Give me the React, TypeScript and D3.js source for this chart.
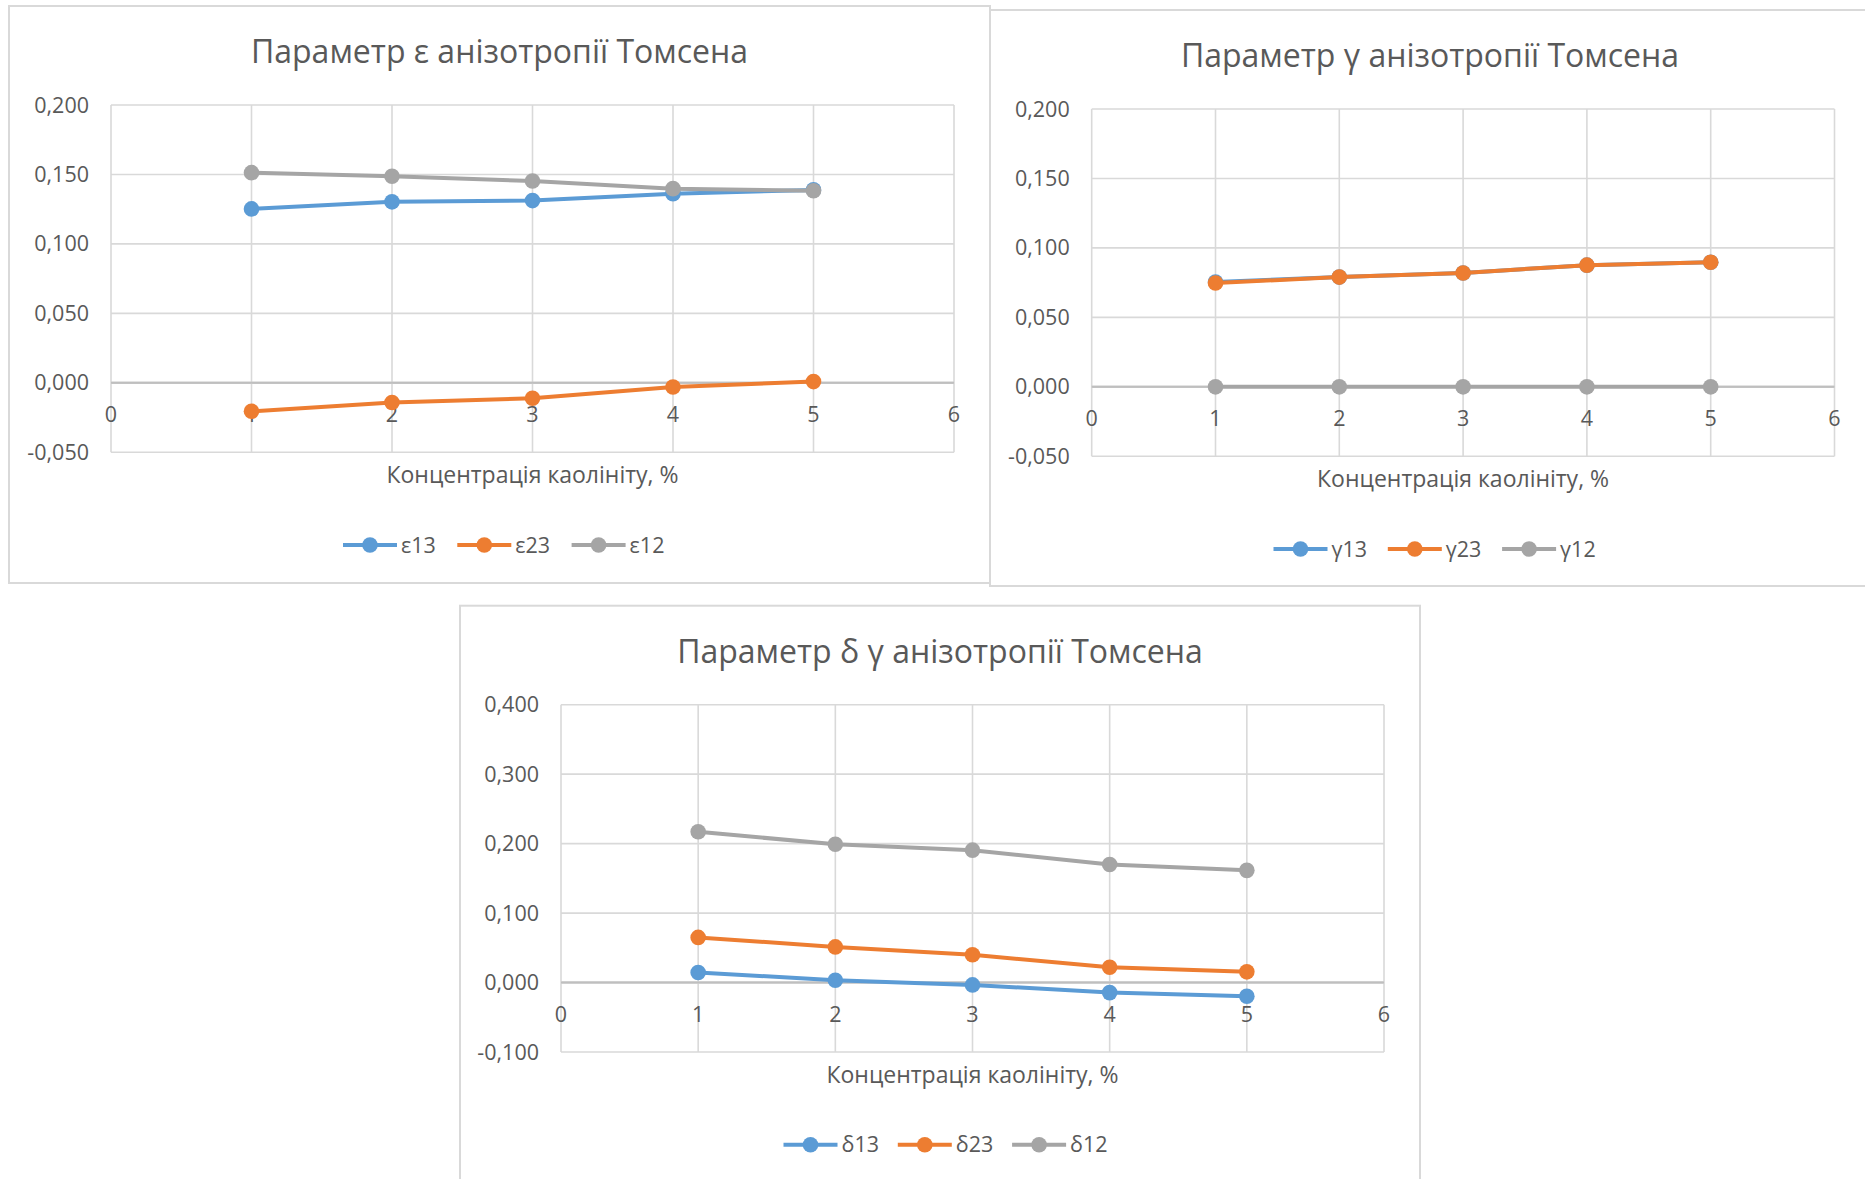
import React from "react";
import * as d3 from "d3";

// ---------- data ----------
const xValues = [1, 2, 3, 4, 5];

const epsNames = ["ε13", "ε23", "ε12"];
const eps13 = [0.1252, 0.1303, 0.1312, 0.1362, 0.1389];
const eps23 = [-0.0205, -0.0141, -0.0111, -0.003, 0.0009];
const eps12 = [0.1513, 0.1487, 0.1453, 0.1398, 0.1383];

const gamNames = ["γ13", "γ23", "γ12"];
const gam13 = [0.0755, 0.079, 0.082, 0.0876, 0.0897];
const gam23 = [0.0747, 0.079, 0.082, 0.0876, 0.0897];
const gam12 = [0, 0, 0, 0, 0];

const delNames = ["δ13", "δ23", "δ12"];
const del13 = [0.0145, 0.0034, -0.0034, -0.0145, -0.0197];
const del23 = [0.065, 0.0513, 0.040, 0.022, 0.0154];
const del12 = [0.217, 0.199, 0.1906, 0.170, 0.1615];

const titles = [
  "Параметр ε анізотропії Томсена",
  "Параметр γ анізотропії Томсена",
  "Параметр δ γ анізотропії Томсена",
];
const xAxisTitle = "Концентрація каолініту, %";
const xTicks = [0, 1, 2, 3, 4, 5, 6];
const yTicksSmall = [-0.05, 0, 0.05, 0.1, 0.15, 0.2];
const yTicksLarge = [-0.1, 0, 0.1, 0.2, 0.3, 0.4];

const seriesColors = ["#5B9BD5", "#ED7D31", "#A5A5A5"];

// ---------- helpers ----------
const locale = d3.formatLocale({
  decimal: ",",
  thousands: " ",
  grouping: [3],
  currency: ["", ""],
  minus: "-",
});
const fmtY = locale.format(".3f");

const FONT = "'Open Sans', 'DejaVu Sans', sans-serif";
const TEXT = "#595959";
const GRID = "#D9D9D9";

type ChartProps = {
  fx: number; fy: number; fw: number; fh: number;
  plotLeft: number; plotRight: number;
  title: string;
  yDomain: [number, number];
  yTicks: number[];
  names: string[];
  series: number[][];
};

function Chart(p: ChartProps) {
  const plotTop = p.fy + 99;
  const plotBottom = plotTop + 347.3;
  const x = d3.scaleLinear().domain([0, 6]).range([p.plotLeft, p.plotRight]);
  const y = d3.scaleLinear().domain(p.yDomain).range([plotBottom, plotTop]);
  const line = d3
    .line<number>()
    .x((_, i) => x(xValues[i]))
    .y((d) => y(d));
  const cx = p.fx + p.fw / 2;
  const y0 = y(0);
  const legendSpacing = 114.3;
  const legendWidth = 320;
  const legendStart = cx + 3.5 - legendWidth / 2;
  const legendY = p.fy + 539;

  return (
    <g>
      <rect x={p.fx} y={p.fy} width={p.fw} height={p.fh} fill="#fff" stroke={GRID} strokeWidth={2} />
      <text x={cx} y={p.fy + 57} textAnchor="middle" fontSize={32} fill={TEXT} fontFamily={FONT}>
        {p.title}
      </text>
      {/* horizontal gridlines */}
      {p.yTicks.map((t) => (
        <line key={"h" + t} x1={p.plotLeft} x2={p.plotRight} y1={y(t)} y2={y(t)}
          stroke={t === 0 ? "#BFBFBF" : GRID} strokeWidth={t === 0 ? 2 : 1.6} />
      ))}
      {/* vertical gridlines */}
      {xTicks.map((t) => (
        <line key={"v" + t} x1={x(t)} x2={x(t)} y1={plotTop} y2={plotBottom}
          stroke={GRID} strokeWidth={1.6} />
      ))}
      <line x1={p.plotLeft} x2={p.plotRight} y1={y0} y2={y0} stroke="#BFBFBF" strokeWidth={2} />
      {/* y tick labels */}
      {p.yTicks.map((t) => (
        <text key={"yl" + t} x={p.plotLeft - 22} y={y(t) + 7.5} textAnchor="end" fontSize={21.5}
          fill={TEXT} fontFamily={FONT}>
          {fmtY(t)}
        </text>
      ))}
      {/* x tick labels */}
      {xTicks.map((t) => (
        <text key={"xl" + t} x={x(t)} y={y0 + 39} textAnchor="middle" fontSize={21.5}
          fill={TEXT} fontFamily={FONT}>
          {t}
        </text>
      ))}
      <text x={(p.plotLeft + p.plotRight) / 2} y={p.fy + 477} textAnchor="middle" fontSize={23}
        fill={TEXT} fontFamily={FONT}>
        {xAxisTitle}
      </text>
      {/* series */}
      {p.series.map((s, si) => (
        <g key={"s" + si}>
          <path d={line(s) || ""} fill="none" stroke={seriesColors[si]} strokeWidth={4}
            strokeLinejoin="round" strokeLinecap="round" />
          {s.map((v, i) => (
            <circle key={i} cx={x(xValues[i])} cy={y(v)} r={7.8} fill={seriesColors[si]} />
          ))}
        </g>
      ))}
      {/* legend */}
      {p.names.map((n, i) => {
        const lx = legendStart + i * legendSpacing;
        return (
          <g key={"lg" + i}>
            <line x1={lx} x2={lx + 54} y1={legendY} y2={legendY} stroke={seriesColors[i]} strokeWidth={4} />
            <circle cx={lx + 27} cy={legendY} r={7.8} fill={seriesColors[i]} />
            <text x={lx + 58} y={legendY + 7.5} fontSize={21.5} fill={TEXT} fontFamily={FONT}>
              {n}
            </text>
          </g>
        );
      })}
    </g>
  );
}

export default function App() {
  return (
    <svg width={1865} height={1179} style={{ position: "absolute", left: 0, top: 0, background: "#fff" }}>
      <rect x={0} y={0} width={1865} height={1179} fill="#fff" />
      <Chart fx={9} fy={6} fw={981} fh={577} plotLeft={111} plotRight={954}
        title={titles[0]} yDomain={[-0.05, 0.2]} yTicks={yTicksSmall}
        names={epsNames} series={[eps13, eps23, eps12]} />
      <Chart fx={990} fy={10} fw={880} fh={576} plotLeft={1091.7} plotRight={1834.5}
        title={titles[1]} yDomain={[-0.05, 0.2]} yTicks={yTicksSmall}
        names={gamNames} series={[gam13, gam23, gam12]} />
      <Chart fx={460} fy={605.7} fw={960} fh={620} plotLeft={561} plotRight={1384}
        title={titles[2]} yDomain={[-0.1, 0.4]} yTicks={yTicksLarge}
        names={delNames} series={[del13, del23, del12]} />
    </svg>
  );
}
